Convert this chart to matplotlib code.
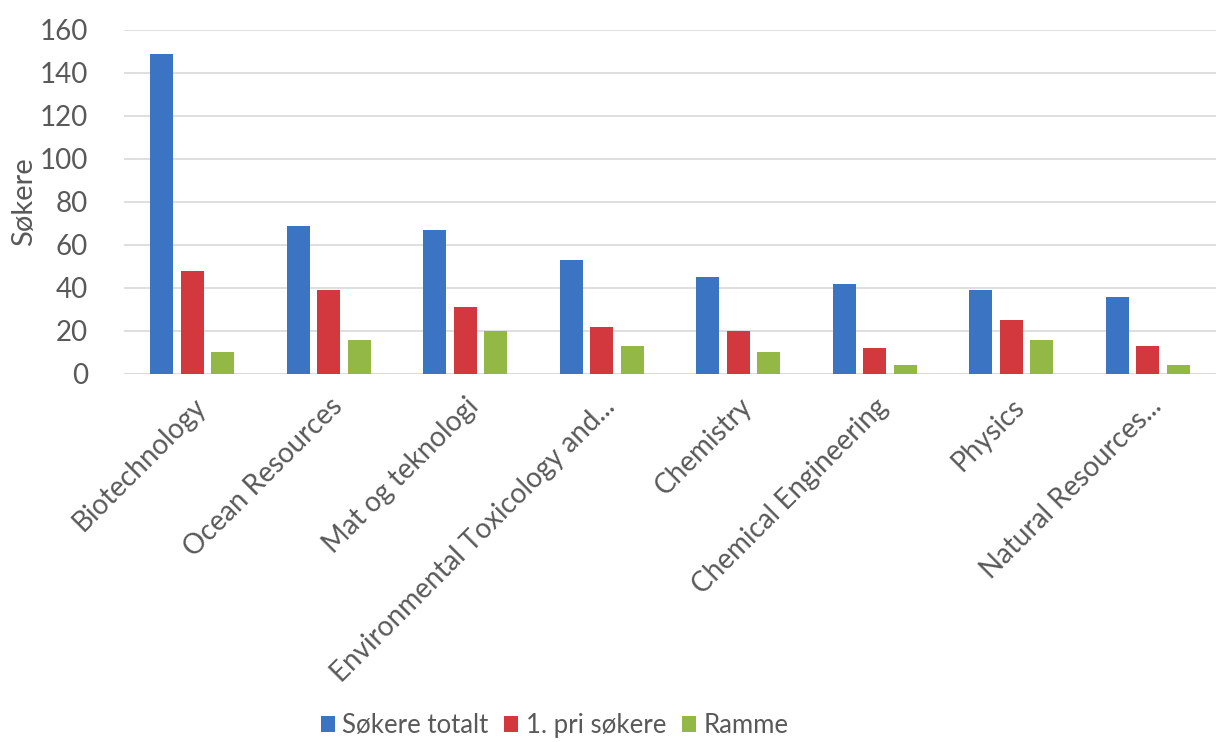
import numpy as np
import matplotlib
matplotlib.use('Agg')
import matplotlib.pyplot as plt

plt.rcParams['font.family'] = ['Lato', 'DejaVu Sans']

categories = ['Biotechnology', 'Ocean Resources', 'Mat og teknologi',
              'Environmental Toxicology and...', 'Chemistry',
              'Chemical Engineering', 'Physics', 'Natural Resources...']
sokere_totalt = [149, 69, 67, 53, 45, 42, 39, 36]
forste_pri = [48, 39, 31, 22, 20, 12, 25, 13]
ramme = [10, 16, 20, 13, 10, 4, 16, 4]

series = [('Søkere totalt', sokere_totalt, '#3B74C2'),
          ('1. pri søkere', forste_pri, '#D2383E'),
          ('Ramme', ramme, '#93B845')]

txt = '#595959'

fig = plt.figure(figsize=(12.16, 7.42), dpi=100)
ax = fig.add_axes([0.102, 0.496, 0.898, 0.4636])

x = np.arange(len(categories))
w = 0.17
step = 0.223
for k, (name, vals, col) in enumerate(series):
    ax.bar(x + (k - 1) * step, vals, width=w, color=col, label=name, zorder=3)

ax.set_xlim(-0.5, len(categories) - 0.5)
ax.set_ylim(0, 160)
ax.set_yticks(range(0, 161, 20))
ax.yaxis.grid(True, color='#D9D9D9', lw=1.2, zorder=0)
for s in ax.spines.values():
    s.set_visible(False)
ax.axhline(0, color='#D9D9D9', lw=1.2, zorder=1)
ax.tick_params(length=0, colors=txt)
ax.tick_params(axis='y', labelsize=20, pad=26)
ax.set_xticks(x)
ax.set_xticklabels(categories, rotation=45, ha='right', rotation_mode='anchor')
ax.tick_params(axis='x', labelsize=20, pad=14)
ax.set_ylabel('Søkere', fontsize=21, color=txt)
ax.yaxis.set_label_coords(-0.08, 0.5)

fig.legend(loc='center', bbox_to_anchor=(0.456, 0.022), ncol=3, frameon=False,
           fontsize=18.5, handlelength=0.55, handleheight=0.55, handletextpad=0.3,
           columnspacing=0.6, labelcolor=txt)

fig.savefig('out.png', dpi=100)
